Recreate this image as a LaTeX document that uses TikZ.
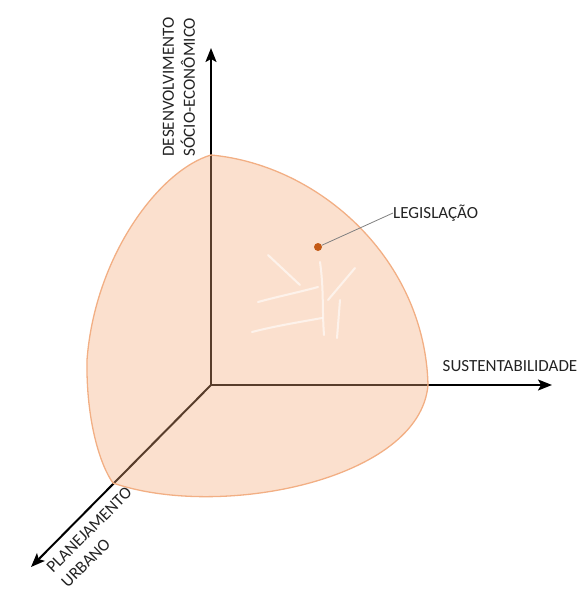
\documentclass[tikz,border=0pt]{standalone}
\usepackage{fontspec}
\setmainfont{Carlito}
\usetikzlibrary{arrows.meta}
\definecolor{blobfill}{RGB}{244,170,120}
\definecolor{blobline}{RGB}{242,175,132}
\definecolor{dotc}{RGB}{196,90,22}
\definecolor{txt}{RGB}{35,35,35}
\tikzset{
  axis/.style={line width=2pt, black, -{Stealth[length=14pt,width=11pt,inset=3pt]}},
  lbl/.style={font=\fontsize{17}{21}\selectfont, text=txt, inner sep=0pt},
  vein/.style={white, line width=2pt, opacity=0.6, line cap=round},
  leader/.style={gray, line width=0.8pt}
}
\begin{document}
\begin{tikzpicture}[x=1pt,y=-1pt]
\useasboundingbox (0,0) rectangle (580,594);
\coordinate (O) at (211,385);
\coordinate (up) at (211,48);
\coordinate (right) at (552,385);
\coordinate (diag) at (31,567);
\draw[axis] (O) -- (up);
\draw[axis] (O) -- (right);
\draw[axis] (O) -- (diag);
% blob
\fill[blobfill, fill opacity=0.36]
  (211,155) .. controls (160,170) and (95,255) .. (87,360)
  .. controls (86,420) and (100,465) .. (113,483)
  .. controls (220,520) and (420,480) .. (428,385)
  .. controls (425,260) and (320,165) .. (211,155) -- cycle;
\draw[blobline, line width=1.3pt]
  (211,155) .. controls (160,170) and (95,255) .. (87,360)
  .. controls (86,420) and (100,465) .. (113,483)
  .. controls (220,520) and (420,480) .. (428,385)
  .. controls (425,260) and (320,165) .. (211,155) -- cycle;
% veins
\draw[vein] (320,262) .. controls (324,290) and (322,310) .. (324,335);
\draw[vein] (340,300) -- (337,338);
\draw[vein] (258,302) .. controls (280,296) and (300,292) .. (318,287);
\draw[vein] (252,332) .. controls (275,326) and (300,322) .. (322,318);
\draw[vein] (268,255) -- (300,285);
\draw[vein] (328,300) -- (355,268);
% legislation marker
\node[circle, fill=dotc, inner sep=0pt, minimum size=8pt] (dot) at (318,247) {};
\node[lbl, anchor=west] (leg) at (393,213) {LEGISLAÇÃO};
\draw[leader] (dot) -- (leg.west);
% labels
\node[lbl, rotate=90, align=center] (desc) at (179,87) {DESENVOLVIMENTO\\SÓCIO-ECONÔMICO};
\node[lbl] (sust) at (510,366) {SUSTENTABILIDADE};
\node[lbl, rotate=45, anchor=north west, align=left] (plan) at (45,566) {PLANEJAMENTO\\URBANO};
\end{tikzpicture}
\end{document}
